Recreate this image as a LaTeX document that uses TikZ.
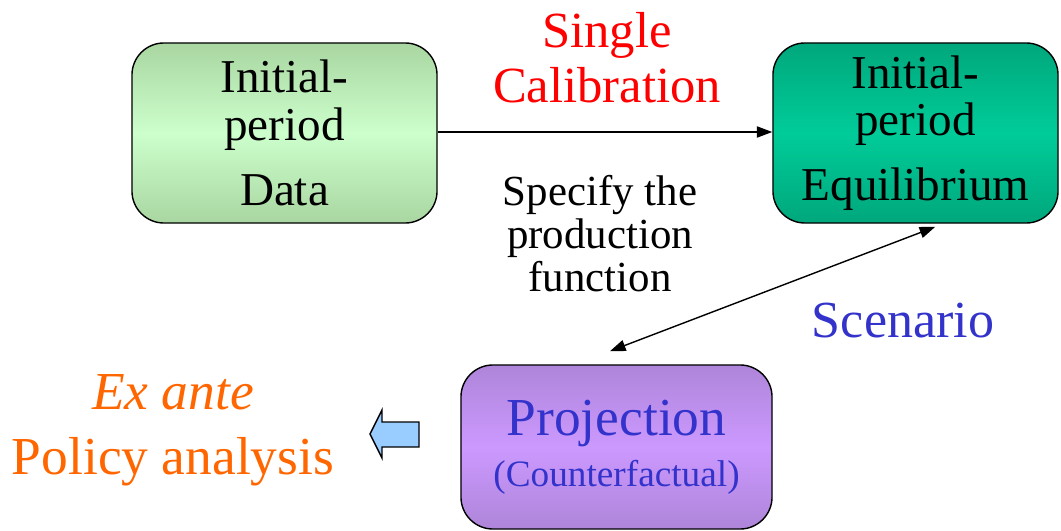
\documentclass[tikz,border=0pt]{standalone}
\usepackage{fontspec}
\setmainfont{Liberation Serif}
\usetikzlibrary{arrows.meta}
\usetikzlibrary{positioning}
\definecolor{datadark}{HTML}{A9D6A1}
\definecolor{datalight}{HTML}{CCFFCC}
\definecolor{eqdark}{HTML}{00A77C}
\definecolor{eqlight}{HTML}{00CC99}
\definecolor{projdark}{HTML}{AE85D9}
\definecolor{projlight}{HTML}{CC99FF}
\definecolor{scenblue}{HTML}{3333CC}
\definecolor{policyorange}{HTML}{FF6600}
\definecolor{hintblue}{HTML}{99CCFF}
\pgfmathsetmacro{\myh}{4.5}
\newlength{\mylsg}
\setlength{\mylsg}{12pt}

\tikzset{
  stagebox/.style={draw, line width=1pt, rounded corners=0.8cm, align=center,
    inner sep=0pt, minimum height=\myh cm, font=\fontsize{33.5}{34}\selectfont},
  flow/.style={line width=1pt, -{Triangle[length=11pt,width=8pt]}},
  twoway/.style={line width=1pt, {Triangle[length=11pt,width=8pt]}-{Triangle[length=11pt,width=8pt]}},
  freetext/.style={inner sep=0pt, align=center},
}

\begin{document}
\begin{tikzpicture}[x=0.025cm, y=-0.025cm]
\useasboundingbox (0,0) rectangle (1061,531);

% the three stages
\node[stagebox, minimum width=7.625cm, top color=datadark, bottom color=datadark, middle color=datalight]
  (data) at (284.5,133) {Initial-\\period\\[\mylsg]Data};
\node[stagebox, minimum width=7.125cm, top color=eqdark, bottom color=eqdark, middle color=eqlight]
  (equil) at (915.5,133) {Initial-\\period\\[\mylsg]Equilibrium};
\node[stagebox, minimum width=7.775cm, minimum height=4.1cm, top color=projdark, bottom color=projdark,
  middle color=projlight, text=scenblue, font=\fontsize{38}{37}\selectfont]
  (proj) at (616.5,447) {Projection\\[-1pt]{\fontsize{26.5}{30}\selectfont (Counterfactual)}};

% labels
\node[freetext, text=red, font=\fontsize{36}{39}\selectfont] (calib) at (607,58) {Single\\Calibration};
\node[freetext, font=\fontsize{30.5}{30.6}\selectfont] (spec) at (600,234) {Specify the\\production\\function};
\node[freetext, anchor=base, text=scenblue, font=\fontsize{37}{40}\selectfont] (scen) at (903,338) {Scenario};
\node[freetext, text=policyorange, font=\fontsize{38}{46}\selectfont] (policy) at (173,430)
  {\textit{Ex ante}\\Policy analysis};

% connectors
\draw[flow] (data.east |- 0,132) -- (equil.west |- 0,132);
\draw[twoway] ([xshift=0.49cm,yshift=-0.08cm]equil.south) -- ([xshift=-0.16cm,yshift=0.33cm]proj.north);

% hint arrow towards the policy text
\draw[line width=1pt, fill=hintblue] (370,434) -- (382,410) -- (382,422) -- (419,422) -- (419,447)
  -- (382,447) -- (382,458) -- cycle;
\end{tikzpicture}
\end{document}
